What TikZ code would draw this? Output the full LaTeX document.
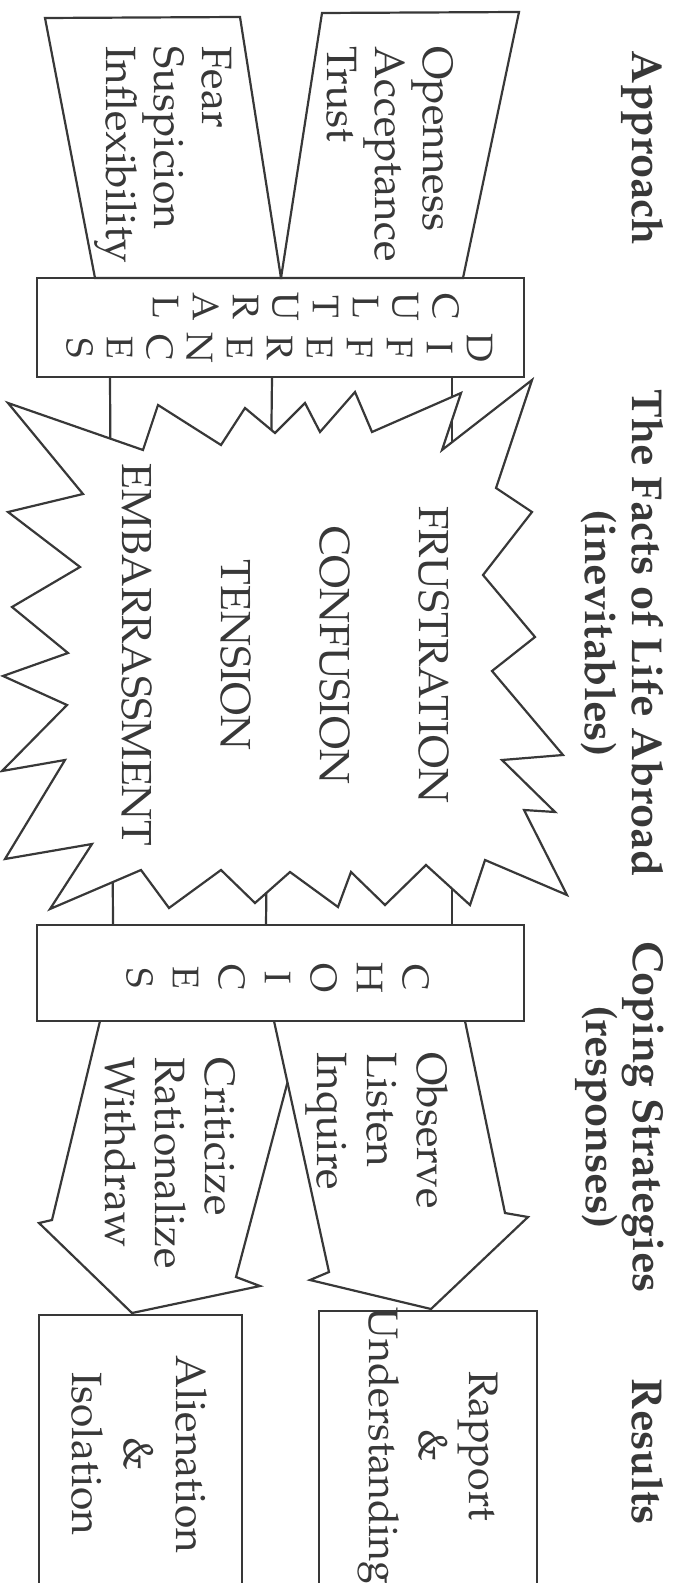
\documentclass[tikz,border=0pt]{standalone}
\usepackage[T1]{fontenc}
\usepackage{mathpazo}
\usetikzlibrary{calc}
\definecolor{ink}{gray}{0.22}
\tikzset{
  every node/.style={text=ink, inner sep=0pt},
  outline/.style={draw=ink, line width=1.1pt, line join=miter},
  word/.style={rotate=-90, font=\fontsize{21.2}{24}\selectfont, align=left, anchor=north west},
  head/.style={rotate=-90, font=\fontsize{21.6}{23.5}\selectfont\bfseries, align=center, anchor=north},
  letters/.style={rotate=-90, font=\fontsize{18.5}{20}\selectfont, align=center, anchor=north},
}
\begin{document}
\begin{tikzpicture}[x=0.5pt, y=-0.5pt]
    \useasboundingbox (0,0) rectangle (673,1583);
    \node[head] (approach) at (664,148) {Approach};
    \node[head] (facts) at (664,633) {The Facts of Life Abroad\\(inevitables)};
    \node[head] (coping) at (664,1117) {Coping Strategies\\(responses)};
    \node[head] (results) at (664,1452) {Results};
    % approach
    \draw[outline] (322,13) -- (519,12) -- (463,278) -- (281,278) -- cycle;
    \draw[outline] (45,18) -- (240,17) -- (281,278) -- (95,278) -- cycle;
    \node[word] (open) at (453,46) {Openness\\Acceptance\\Trust};
    \node[word] (fear) at (232,46) {Fear\\Suspicion\\Inflexibility};
    \draw[outline] (37,278) rectangle (524,377);
    \node[letters] (cult) at (459,307) {C\\U\\L\\T\\U\\R\\A\\L};
    \node[letters] (diffs) at (493,348) {D\\I\\F\\F\\E\\R\\E\\N\\C\\E\\S};
    \draw[outline] (110,377) -- (113,925);
    \draw[outline] (272,377) -- (266,925);
    \draw[outline] (452,377) -- (452,925);
    % starburst
    \draw[outline, fill=white] (8,403) -- (143,450) -- (158,405) -- (221,445) -- (245,408) -- (275,433)
        -- (305,403) -- (320,432) -- (355,392) -- (372,432) -- (461,393) -- (442,450) -- (532,380)
        -- (496,488) -- (532,512) -- (483,575) -- (535,637) -- (492,671) -- (563,755) -- (502,760)
        -- (555,812) -- (524,810) -- (567,895) -- (485,860) -- (470,905) -- (426,865) -- (385,905)
        -- (351,872) -- (338,907) -- (290,872) -- (255,903) -- (221,870) -- (169,908) -- (141,870)
        -- (50,909) -- (92,844) -- (5,859) -- (65,760) -- (2,771) -- (67,705) -- (3,676) -- (68,653)
        -- (12,607) -- (80,567) -- (8,512) -- (83,494) -- cycle;
    \node[rotate=-90, font=\fontsize{21}{49.5}\selectfont, align=center] (feelings) at (285,655)
        {FRUSTRATION\\CONFUSION\\TENSION\\EMBARRASSMENT};
    % coping
    \draw[outline] (37,925) rectangle (524,1021);
    \node[letters, font=\fontsize{18.5}{23}\selectfont] (choices) at (429,978) {C\\H\\O\\I\\C\\E\\S};
    \draw[outline] (274,1021) -- (329,1272) -- (310,1280) -- (431,1309) -- (528,1217) -- (505,1213) -- (465,1021);
    \coordinate (jn) at ($(274,1021)!0.245!(329,1272)$);
    \draw[outline] (jn) -- (236,1277) -- (260,1286) -- (132,1313) -- (39,1223) -- (52,1220) -- (100,1021);
    \node[word, font=\fontsize{21.2}{25}\selectfont] (observe) at (449,1052) {Observe\\Listen\\Inquire};
    \node[word, font=\fontsize{21.2}{25}\selectfont] (criticize) at (235,1057) {Criticize\\Rationalize\\Withdraw};
    % results
    \draw[outline] (319,1590) -- (319,1311) -- (537,1311) -- (537,1590);
    \draw[outline] (39,1590) -- (39,1315) -- (242,1315) -- (242,1590);
    \node[rotate=-90, font=\fontsize{20.6}{25}\selectfont, align=center] (rapport) at (428,1446) {Rapport\\\&\\Understanding};
    \node[rotate=-90, font=\fontsize{21.2}{26}\selectfont, align=center] (alienation) at (139,1454) {Alienation\\\&\\Isolation};
\end{tikzpicture}
\end{document}
